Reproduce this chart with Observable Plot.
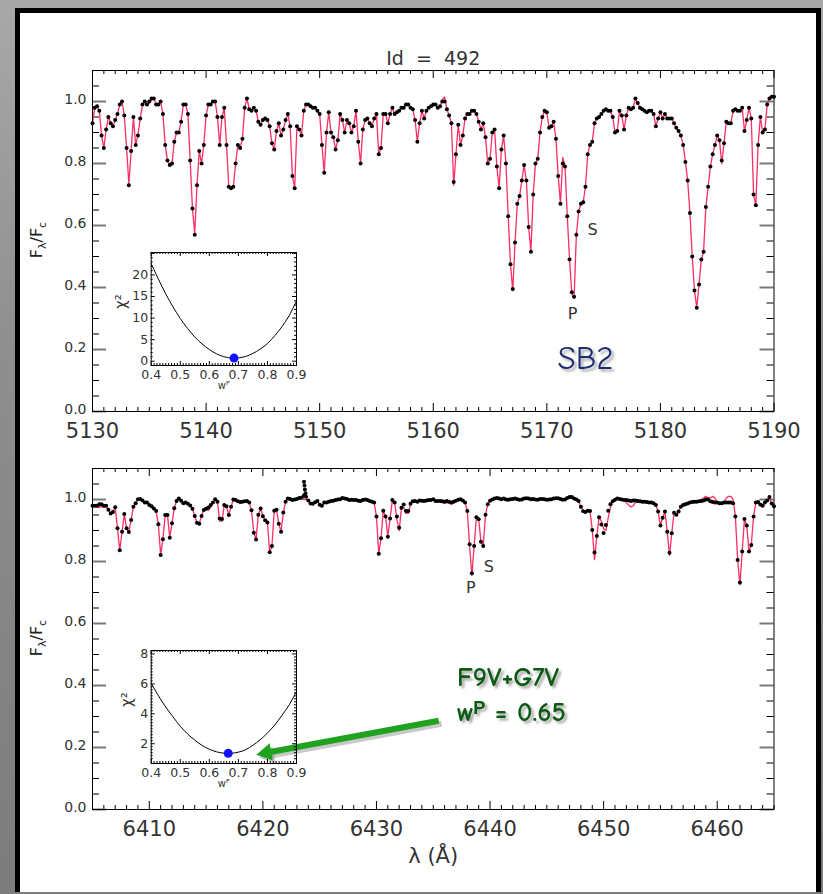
<!DOCTYPE html>
<html><head><meta charset="utf-8">
<script src="https://cdn.jsdelivr.net/npm/d3@7"></script>
<script src="https://cdn.jsdelivr.net/npm/@observablehq/plot@0.6"></script>
<style>
html,body{margin:0;padding:0;}
body{width:823px;height:894px;overflow:hidden;position:relative;
 background:linear-gradient(180deg,#a8a8a8 0%,#8e8e8e 40%,#7c7c7c 100%);}
#panel{position:absolute;left:15px;top:8px;width:806px;height:884px;box-sizing:border-box;
 background:#fff;border:5px solid #000;border-bottom:none;}
.ylab{position:absolute;transform:translate(-50%,-50%) rotate(-90deg);font:16px "DejaVu Sans",sans-serif;white-space:nowrap;color:#222;}
.ylab sub{font-size:11px;}
</style></head>
<body>
<div id="panel"></div>
<div class="ylab" style="left:38px;top:240px">F<sub>λ</sub>/F<sub>c</sub></div>
<div class="ylab" style="left:38px;top:638px">F<sub>λ</sub>/F<sub>c</sub></div>
<script>
// ---------- DATA ----------
// wavelength sampling of both spectra (0.2 Å grid)
const topWaveStart = 5130, botWaveStart = 6405, waveStep = 0.2, nPix = 301;
const topXTicks = [5130, 5140, 5150, 5160, 5170, 5180, 5190];
const botXTicks = [6410, 6420, 6430, 6440, 6450, 6460];
const fluxTicks = [0.0, 0.2, 0.4, 0.6, 0.8, 1.0];

// observed normalized flux, upper spectrum
const topObs = [
0.93,0.98,0.985,0.97,0.89,0.85,0.91,0.95,0.93,0.92,
0.94,0.96,0.99,1.00,0.955,0.85,0.73,0.84,0.95,0.86,
0.89,0.945,0.99,1.00,0.99,1.00,1.01,1.01,0.99,0.99,
1.00,0.96,0.86,0.81,0.795,0.80,0.87,0.90,0.90,0.935,
0.99,0.99,0.96,0.81,0.655,0.57,0.73,0.84,0.80,0.86,
0.955,0.99,0.99,1.00,1.00,0.95,0.86,0.95,0.98,0.86,
0.725,0.72,0.725,0.80,0.86,0.85,0.88,0.98,1.01,0.975,
0.97,0.98,0.97,0.935,0.925,0.94,0.945,0.94,0.92,0.865,
0.845,0.905,0.93,0.89,0.91,0.94,0.96,0.92,0.76,0.72,
0.92,0.91,0.89,0.97,0.99,0.99,0.985,0.98,0.98,0.97,
0.96,0.86,0.77,0.90,0.965,0.90,0.885,0.845,0.875,0.96,
0.94,0.90,0.94,0.93,0.90,0.92,0.97,0.87,0.80,0.91,
0.94,0.945,0.93,0.92,0.945,0.96,0.83,0.85,0.96,0.96,
0.93,0.96,0.98,0.96,0.965,0.97,0.98,0.98,0.99,0.99,
0.98,0.975,0.94,0.87,0.93,0.97,0.945,0.97,0.98,
0.985,0.99,0.99,0.98,0.985,1.00,1.00,0.975,0.955,0.93,
0.74,0.83,0.925,0.86,0.89,0.945,0.96,0.96,0.97,0.97,
0.96,0.935,0.91,0.93,0.885,0.80,0.815,0.90,0.91,0.79,
0.72,0.845,0.89,0.80,0.63,0.475,0.395,0.545,0.67,0.695,
0.745,0.795,0.745,0.595,0.515,0.70,0.80,0.815,0.90,0.95,
0.97,0.965,0.915,0.92,0.935,0.88,0.76,0.67,0.80,0.79,
0.63,0.49,0.385,0.37,0.57,0.645,0.67,0.675,0.725,0.83,
0.86,0.87,0.93,0.945,0.95,0.96,0.97,0.975,0.97,0.97,
0.95,0.90,0.905,0.97,0.955,0.91,0.955,0.98,0.975,0.98,
1.01,0.995,0.98,0.975,0.97,0.965,0.97,0.97,0.96,0.92,
0.945,0.965,0.945,0.96,0.945,0.945,0.945,0.93,0.915,0.905,
0.89,0.86,0.805,0.745,0.64,0.50,0.39,0.335,0.41,0.49,
0.515,0.66,0.725,0.79,0.83,0.86,0.89,0.875,0.81,0.865,
0.935,0.93,0.93,0.97,0.975,0.97,0.97,0.98,0.905,0.94,
0.98,0.945,0.70,0.665,0.86,0.95,0.90,0.91,0.99,1.01,
1.015,1.015];

// composite model, upper spectrum
const topModel = [
0.93,0.98,0.985,0.97,0.89,0.85,0.91,0.95,0.93,0.92,
0.94,0.96,0.99,1.00,0.955,0.85,0.735,0.84,0.95,0.86,
0.89,0.945,0.99,1.00,0.99,0.995,1.005,1.01,0.99,0.99,
1.00,0.96,0.86,0.81,0.795,0.80,0.87,0.90,0.90,0.935,
0.99,0.99,0.96,0.81,0.655,0.575,0.73,0.84,0.80,0.86,
0.955,0.99,0.99,1.00,1.00,0.95,0.86,0.95,0.98,0.86,
0.725,0.72,0.725,0.80,0.86,0.85,0.88,0.98,1.01,0.975,
0.97,0.98,0.97,0.935,0.925,0.94,0.945,0.94,0.92,0.865,
0.845,0.905,0.93,0.89,0.91,0.94,0.96,0.92,0.76,0.72,
0.92,0.91,0.89,0.97,0.99,0.99,0.985,0.98,0.98,0.97,
0.96,0.86,0.77,0.90,0.965,0.90,0.885,0.845,0.875,0.96,
0.94,0.90,0.94,0.93,0.90,0.92,0.97,0.87,0.80,0.91,
0.94,0.945,0.93,0.92,0.945,0.96,0.83,0.85,0.96,0.96,
0.93,0.96,0.98,0.96,0.965,0.97,0.98,0.98,0.99,0.99,
0.98,0.975,0.94,0.87,0.93,0.97,0.945,0.97,0.98,
0.985,0.99,0.99,0.98,0.985,1.005,1.015,0.975,0.955,0.93,
0.73,0.83,0.925,0.86,0.89,0.945,0.96,0.96,0.97,0.97,
0.96,0.935,0.91,0.93,0.885,0.80,0.815,0.90,0.91,0.79,
0.72,0.845,0.89,0.80,0.63,0.475,0.39,0.545,0.67,0.695,
0.745,0.795,0.745,0.595,0.515,0.70,0.80,0.815,0.90,0.95,
0.97,0.965,0.915,0.92,0.935,0.88,0.76,0.67,0.82,0.79,
0.63,0.49,0.38,0.365,0.57,0.645,0.67,0.675,0.725,0.83,
0.86,0.87,0.93,0.945,0.95,0.96,0.97,0.975,0.97,0.97,
0.95,0.90,0.905,0.97,0.955,0.91,0.955,0.98,0.975,0.98,
1.01,0.995,0.98,0.975,0.97,0.965,0.97,0.97,0.96,0.92,
0.945,0.965,0.945,0.96,0.945,0.945,0.945,0.93,0.915,0.905,
0.89,0.86,0.805,0.745,0.64,0.50,0.39,0.335,0.41,0.49,
0.515,0.66,0.725,0.79,0.83,0.86,0.89,0.875,0.80,0.865,
0.935,0.93,0.93,0.97,0.975,0.97,0.97,0.98,0.905,0.94,
0.98,0.945,0.70,0.665,0.86,0.95,0.90,0.91,0.99,1.01,
1.015,1.015];

// observed normalized flux, lower spectrum
const botObs = [
0.98,0.98,0.98,0.985,0.985,0.98,0.98,0.967,0.955,0.96,
0.975,0.907,0.836,0.896,0.953,0.907,0.895,0.934,0.977,0.988,
1.001,1.002,0.997,0.99,0.99,0.982,0.978,0.971,0.963,0.92,
0.821,0.872,0.95,0.95,0.877,0.923,0.972,0.995,1.003,0.996,
0.988,0.99,0.986,0.981,0.97,0.947,0.925,0.922,0.947,0.966,
0.97,0.974,0.982,0.99,1.001,0.993,0.939,0.937,0.982,0.978,
0.95,0.977,1.0,0.998,0.994,0.992,0.993,0.994,0.995,0.99,
0.965,0.893,0.871,0.951,0.971,0.946,0.933,0.926,0.83,0.85,
0.964,0.967,0.922,0.896,0.958,0.993,1.003,1.002,0.998,1.0,
1.002,1.005,1.006,1.012,1.009,0.997,0.987,0.986,0.991,0.995,
0.983,0.98,0.99,0.99,0.993,0.995,0.996,0.998,1.0,1.001,
1.005,1.003,1.002,0.998,0.999,0.998,0.998,0.996,0.995,0.998,
1.0,0.998,0.995,0.993,0.99,0.945,0.825,0.875,0.964,0.945,
0.88,0.939,0.998,0.99,0.945,0.909,0.973,0.984,0.963,0.963,
0.986,0.994,0.995,0.993,0.997,0.996,0.995,0.997,0.998,0.998,
1.001,
0.995,0.995,0.995,0.994,0.993,0.995,0.993,0.99,0.993,0.996,
0.999,1.001,0.997,0.99,0.963,0.856,0.762,0.85,0.943,0.936,
0.864,0.85,0.951,0.985,0.996,1.0,1.003,1.005,1.003,1.001,
1.003,1.0,0.999,1.001,1.002,1.003,1.001,0.999,1.0,1.003,
1.004,1.003,1.001,1.002,1.0,0.999,1.002,1.002,1.001,0.999,
1.0,1.001,1.003,1.004,1.004,1.002,0.999,1.0,1.005,1.008,
1.008,1.003,1.0,0.995,0.977,0.962,0.96,0.964,0.963,0.902,
0.829,0.882,0.943,0.919,0.892,0.918,0.964,0.985,0.994,0.999,
1.003,1.002,1.0,0.998,0.998,0.997,0.995,0.997,0.997,0.995,
0.994,0.993,0.993,0.992,0.99,0.99,0.988,0.982,0.961,0.916,
0.941,0.961,0.896,0.828,0.891,0.957,0.951,0.961,0.977,0.982,
0.985,0.987,0.99,0.992,0.993,0.993,0.994,0.995,0.997,1.0,
1.0,0.994,0.992,0.99,0.99,0.988,0.988,0.99,0.99,0.99,
0.99,0.988,0.945,0.805,0.732,0.832,0.937,0.916,0.832,0.853,
0.945,0.99,0.992,0.984,0.98,0.99,0.997,1.008,0.987,0.978];

// composite model, lower spectrum
const botModel = [
0.98,0.978,0.975,0.975,0.977,0.975,0.978,0.967,0.955,0.96,
0.975,0.907,0.836,0.896,0.953,0.907,0.895,0.934,0.977,0.988,
1.001,1.002,0.997,0.99,0.99,0.982,0.978,0.971,0.963,0.92,
0.821,0.872,0.95,0.95,0.877,0.923,0.972,0.995,1.003,0.996,
0.988,0.99,0.986,0.981,0.97,0.947,0.925,0.922,0.947,0.966,
0.97,0.965,0.975,0.99,1.001,0.993,0.93,0.93,0.982,0.978,
0.95,0.977,1.0,0.998,0.994,0.992,0.993,0.994,0.995,0.99,
0.965,0.893,0.871,0.951,0.971,0.946,0.933,0.926,0.83,0.85,
0.964,0.967,0.922,0.896,0.958,0.993,1.003,1.002,0.998,1.0,
1.002,1.005,1.006,1.0,1.0,0.997,0.987,0.986,0.991,0.995,
0.983,0.98,0.99,0.99,0.993,0.995,0.996,0.998,1.0,1.001,
1.005,1.003,1.002,0.998,0.999,0.998,0.998,0.996,0.995,0.998,
1.0,0.998,0.995,0.993,0.99,0.945,0.825,0.875,0.964,0.945,
0.88,0.939,0.998,0.99,0.935,0.9,0.973,0.975,0.955,0.955,
0.986,0.994,0.995,0.993,0.997,0.996,0.995,0.997,0.998,0.998,
1.001,
0.995,0.995,0.995,0.99,0.988,0.99,0.988,0.985,0.99,0.996,
0.999,1.001,0.997,0.99,0.963,0.85,0.755,0.85,0.943,0.936,
0.864,0.85,0.951,0.985,0.996,1.0,1.003,1.005,1.003,1.001,
1.003,1.0,0.999,1.001,1.002,1.003,1.001,0.999,1.0,1.003,
1.004,1.003,1.001,1.002,1.0,0.999,1.002,1.002,1.001,0.999,
1.0,1.001,1.003,1.004,1.004,1.002,0.999,1.0,1.005,1.008,
1.008,1.003,1.0,0.995,0.977,0.962,0.96,0.964,0.963,0.902,
0.806,0.882,0.943,0.93,0.905,0.9,0.94,0.975,0.994,0.999,
1.003,1.002,1.0,0.998,0.99,0.982,0.976,0.98,0.99,0.995,
0.994,0.993,0.993,0.992,0.99,0.99,0.988,0.982,0.961,0.916,
0.941,0.961,0.896,0.82,0.891,0.957,0.951,0.961,0.977,0.982,
0.985,0.987,0.99,0.992,0.993,0.993,0.994,1.0,1.005,1.01,
1.005,1.005,1.01,1.005,0.99,0.988,0.988,0.99,1.005,1.01,
1.01,1.0,0.945,0.805,0.725,0.832,0.937,0.916,0.832,0.853,
0.945,0.99,0.99,0.98,0.978,0.99,0.997,1.005,0.987,0.978];

// cosmic-ray spike in the lower spectrum
const spikeWave = [6423.62, 6423.66, 6423.70, 6423.75];
const spikeFlux = [1.057, 1.045, 1.032, 1.02];

// line identifications (primary / secondary)
const idText = ["P", "S"];
const topIdWave = [5172.26, 5174.03], topIdFlux = [0.315, 0.586];
const botIdWave = [6438.3, 6439.9], botIdFlux = [0.714, 0.784];

// annotations
const sb2Label = ["SB2"], sb2Wave = [5173.4], sb2Flux = [0.171];
const fitLabels = ["F9V+G7V", "wᴾ = 0.65"], fitWave = [6437.1, 6437.1], fitFlux = [0.399, 0.286];
const arrowTail = [6435.48, 0.2864], arrowHead = [6420.3, 0.183];

// chi-square vs primary weight insets
const wP = [0.40,0.425,0.45,0.475,0.50,0.525,0.55,0.575,0.60,0.625,0.65,0.675,0.70,0.725,0.75,0.775,0.80,0.825,0.85,0.875,0.90];
const chiTop = [22.6,19.0,15.6,12.6,9.9,7.6,5.6,4.0,2.7,1.7,1.05,0.73,0.76,1.1,1.8,2.8,4.1,5.9,8.0,10.6,14.0];
const chiBot = [6.05,5.2,4.45,3.8,3.17,2.66,2.24,1.89,1.63,1.46,1.37,1.36,1.44,1.6,1.9,2.26,2.72,3.25,3.9,4.6,5.5];
const bestTop = {w: 0.685, c: 0.72}, bestBot = {w: 0.665, c: 1.36};
const insetXTicks = [0.4, 0.5, 0.6, 0.7, 0.8, 0.9];
const insetTopYTicks = [0, 5, 10, 15, 20];
const insetBotYTicks = [2, 4, 6, 8];

// ---------- RENDER ----------
const FONT = "DejaVu Sans, sans-serif";
const COMIC = "'Comic Sans MS', 'Comic Neue', cursive, sans-serif";
const RED = "#ff2d63";
const style = {background: "transparent", overflow: "visible", fontFamily: FONT, color: "#222"};

function place(svg, left, top, w) {
  const d = document.createElement("div");
  d.style.cssText = `position:absolute;left:${left}px;top:${top}px;width:${w}px;`;
  d.appendChild(svg);
  document.body.appendChild(d);
}

function addShadow(svg, id, texts) {
  const ns = "http://www.w3.org/2000/svg";
  const defs = document.createElementNS(ns, "defs");
  defs.innerHTML = `<filter id="${id}" x="-20%" y="-30%" width="140%" height="170%"><feDropShadow dx="2.5" dy="2.5" stdDeviation="1.2" flood-color="#000" flood-opacity="0.35"/></filter>`;
  svg.insertBefore(defs, svg.firstChild);
  svg.querySelectorAll("text").forEach(t => {
    if (texts.includes(t.textContent)) t.setAttribute("filter", `url(#${id})`);
  });
}

function frameTicks(xMaj, xMin, yMaj, yMin, fw, fh, L) {
  const m = [];
  const tx = (v, len, o) => [
    Plot.tickX(v, {x: d => d, insetTop: fh - len, ...o}),
    Plot.tickX(v, {x: d => d, insetBottom: fh - len, ...o})];
  const ty = (v, len, o) => [
    Plot.tickY(v, {y: d => d, insetRight: fw - len, ...o}),
    Plot.tickY(v, {y: d => d, insetLeft: fw - len, ...o})];
  m.push(...tx(xMin, L.xmin, {stroke: "#000", strokeWidth: 1}));
  m.push(...tx(xMaj, L.xmaj, {stroke: "#000", strokeWidth: 1}));
  m.push(...ty(yMin, L.ymin, {stroke: "#000", strokeWidth: 1}));
  m.push(...ty(yMaj, L.ymaj, L.ymajStyle || {stroke: "#000", strokeWidth: 1}));
  return m;
}

function spectrum({start, obs, model, xTicks, domain, extraMarks, height, mTop, mBottom}) {
  const rows = [];
  const n = Math.min(nPix, obs.length, model.length);
  for (let i = 0; i < n; i++) rows.push({w: +(start + i * waveStep).toFixed(2), o: obs[i], m: model[i]});
  const fw = 823 - 92 - 49.5, fh = height - mTop - mBottom;
  const xAll = d3.range(domain[0], domain[1] + 0.1, 1);
  const xMaj = xAll.filter(d => Math.round(d) % 10 === 0);
  const xMin = xAll.filter(d => Math.round(d) % 10 !== 0);
  const yAll = d3.range(0, 23).map(i => +(i * 0.05).toFixed(2));
  const yMin = yAll.filter((d, i) => i % 4 !== 0);
  return Plot.plot({
    width: 823, height, marginLeft: 92, marginRight: 49.5, marginTop: mTop, marginBottom: mBottom,
    x: {domain, axis: null}, y: {domain: [0, 1.1], axis: null},
    style,
    marks: [
      ...frameTicks(xMaj, xMin, fluxTicks, yMin, fw, fh,
        {xmin: 4, xmaj: 8, ymin: 7, ymaj: 14, ymajStyle: {stroke: "#7a7a7a", strokeWidth: 2}}),
      Plot.line(rows, {x: "w", y: "m", stroke: RED, strokeWidth: 1.3}),
      Plot.dot(rows, {x: "w", y: "o", r: 2, fill: "#000", stroke: "none"}),
      Plot.frame({stroke: "#000", strokeWidth: 1}),
      Plot.text(xTicks, {x: d => d, frameAnchor: "bottom", dy: 26, text: d => String(d), fontSize: 21, fill: "#333"}),
      Plot.text(fluxTicks, {y: d => d, frameAnchor: "left", textAnchor: "end", dx: -6, dy: -2, text: d => d.toFixed(1), fontSize: 14, fill: "#333"}),
      ...extraMarks
    ]
  });
}

const topExtra = [
  Plot.text(["Id  =  492"], {frameAnchor: "top", dy: -19, text: d => d, fontSize: 19, fill: "#333"}),
  Plot.text(idText, {x: (d, i) => topIdWave[i], y: (d, i) => topIdFlux[i], text: d => d, fontSize: 16, fill: "#333"}),
  Plot.text(sb2Label, {x: (d, i) => sb2Wave[i], y: (d, i) => sb2Flux[i], text: d => d, fontSize: 33, fontFamily: COMIC, fill: "#1d2f72"})
];
const topSvg = spectrum({start: topWaveStart, obs: topObs, model: topModel, xTicks: topXTicks, domain: [5130, 5190],
  extraMarks: topExtra, height: 460, mTop: 70, mBottom: 49});
addShadow(topSvg, "shTop", sb2Label);
place(topSvg, 0, 0, 823);

const spikeRows = spikeWave.map((w, i) => ({w, f: spikeFlux[i]}));
const arrowRow = [{x1: arrowTail[0], y1: arrowTail[1], x2: arrowHead[0], y2: arrowHead[1]}];
const botExtra = [
  Plot.dot(spikeRows, {x: "w", y: "f", r: 2, fill: "#000"}),
  Plot.text(idText, {x: (d, i) => botIdWave[i], y: (d, i) => botIdFlux[i], text: d => d, fontSize: 16, fill: "#333"}),
  Plot.text(["λ (Å)"], {frameAnchor: "bottom", dy: 53, text: d => d, fontSize: 21, fill: "#333"}),
  // arrow shadow
  Plot.link(arrowRow, {x1: "x1", y1: "y1", x2: "x2", y2: "y2", stroke: "#777", strokeOpacity: 0.4, strokeWidth: 6, dx: 3, dy: 3}),
  Plot.dot(arrowRow, {x: "x2", y: "y2", symbol: "triangle", r: 6.5, rotate: 259.4, fill: "#777", fillOpacity: 0.4, dx: 3, dy: 3}),
  Plot.link(arrowRow, {x1: "x1", y1: "y1", x2: "x2", y2: "y2", stroke: "#1fa31f", strokeWidth: 6}),
  Plot.dot(arrowRow, {x: "x2", y: "y2", symbol: "triangle", r: 6.5, rotate: 259.4, fill: "#1fa31f"}),
  Plot.text(fitLabels, {x: (d, i) => fitWave[i], y: (d, i) => fitFlux[i], text: d => d, textAnchor: "start", lineAnchor: "bottom", fontSize: 27, fontWeight: "bold", fontFamily: COMIC, fill: "#0f5a14"})
];
const botSvg = spectrum({start: botWaveStart, obs: botObs, model: botModel, xTicks: botXTicks, domain: [6405, 6465],
  extraMarks: botExtra, height: 496, mTop: 70, mBottom: 85});
addShadow(botSvg, "shBot", fitLabels);
place(botSvg, 0, 398, 823);

function inset({chi, best, yDomain, yTicks, yMinStep, yMajStep, chiDx}) {
  const rows = wP.map((w, i) => ({w, c: chi[i]}));
  const fw = 145.3, fh = 113;
  const xAll = d3.range(0, 51).map(i => +(0.4 + i * 0.01).toFixed(2));
  const xMaj = xAll.filter((d, i) => i % 10 === 0);
  const xMin = xAll.filter((d, i) => i % 10 !== 0);
  const y0 = Math.ceil(yDomain[0]);
  const nY = Math.floor((yDomain[1] - y0) / yMinStep) + 1;
  const yAll = d3.range(0, nY).map(i => +(y0 + i * yMinStep).toFixed(2)).filter(d => d >= yDomain[0] && d <= yDomain[1]);
  const yMaj = yAll.filter(d => Math.abs(d / yMajStep - Math.round(d / yMajStep)) < 1e-6);
  const yMin = yAll.filter(d => !yMaj.includes(d));
  return Plot.plot({
    width: 200, height: 170, marginLeft: 50.7, marginRight: 4, marginTop: 22, marginBottom: 35,
    x: {domain: [0.4, 0.9], axis: null}, y: {domain: yDomain, axis: null},
    style,
    marks: [
      ...frameTicks(xMaj, xMin, yMaj, yMin, fw, fh, {xmin: 2, xmaj: 4, ymin: 2, ymaj: 4}),
      Plot.line(rows, {x: "w", y: "c", curve: "catmull-rom", stroke: "#000", strokeWidth: 1}),
      Plot.dot([best], {x: "w", y: "c", r: 4.5, fill: "#1010ff", stroke: "none"}),
      Plot.frame({stroke: "#000", strokeWidth: 1}),
      Plot.text(insetXTicks, {x: d => d, frameAnchor: "bottom", dy: 13, text: d => d.toFixed(1), fontSize: 12.5, fill: "#333"}),
      Plot.text(yTicks, {y: d => d, frameAnchor: "left", textAnchor: "end", dx: -3, text: d => String(d), fontSize: 12.5, fill: "#333"}),
      Plot.text(["wᴾ"], {frameAnchor: "bottom", dy: 23, text: d => d, fontSize: 10, fill: "#333"}),
      Plot.text(["χ²"], {frameAnchor: "left", dx: chiDx, rotate: -90, text: d => d, fontSize: 15, fill: "#333"})
    ]
  });
}
place(inset({chi: chiTop, best: bestTop, yDomain: [-1, 25.2], yTicks: insetTopYTicks, yMinStep: 1, yMajStep: 5, chiDx: -30}), 100, 230, 200);
place(inset({chi: chiBot, best: bestBot, yDomain: [0.68, 8.23], yTicks: insetBotYTicks, yMinStep: 0.2, yMajStep: 2, chiDx: -24}), 100, 628, 200);
</script>
</body></html>
